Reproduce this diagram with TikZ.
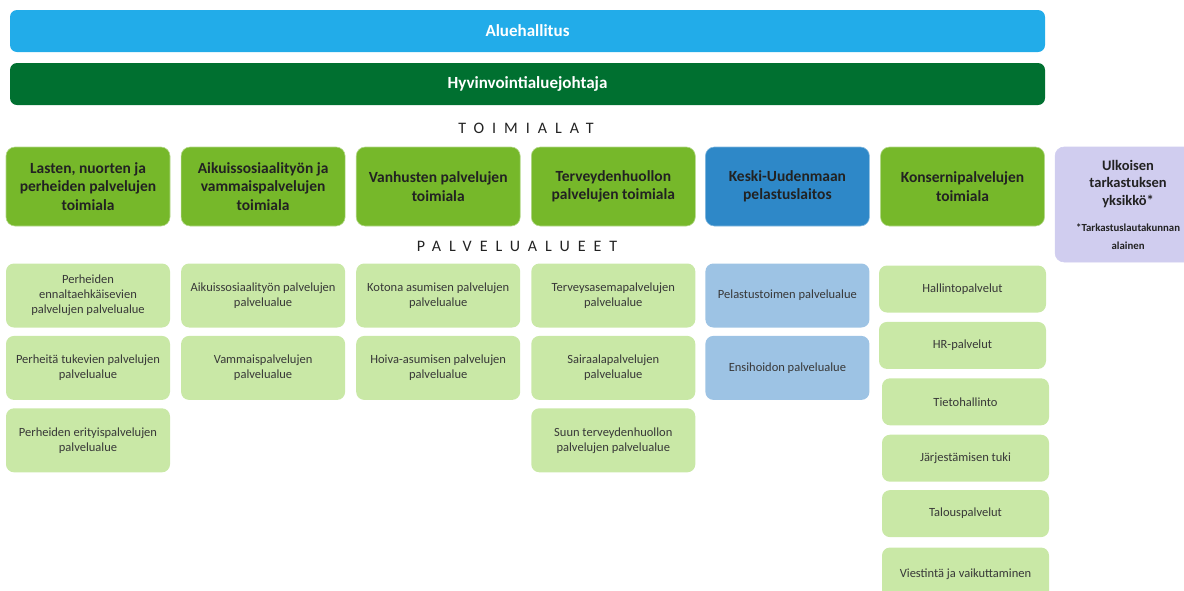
\documentclass[tikz,border=0pt]{standalone}
\usepackage{fontspec}
\setmainfont{Carlito}
\newfontfamily\spaced[LetterSpace=50]{Carlito}
\usetikzlibrary{positioning}
\definecolor{hallitus}{HTML}{22ACE9}
\definecolor{johto}{HTML}{007030}
\definecolor{ala}{HTML}{76B82A}
\definecolor{pela}{HTML}{2E88C8}
\definecolor{alue}{HTML}{C9E8A6}
\definecolor{pelaalue}{HTML}{9DC3E4}
\definecolor{ulko}{HTML}{D0CDEF}
\definecolor{txt}{HTML}{222222}
\definecolor{txtb}{HTML}{383838}
\newcommand{\notefont}{\fontsize{10.8}{14}\selectfont\bfseries}
\begin{document}
\begin{tikzpicture}[x=1pt, y=1pt]
    \tikzstyle{bar} = [rounded corners=7pt, minimum width=1035pt, minimum height=42pt, inner sep=0pt, text=white, font=\fontsize{17}{20}\selectfont\bfseries]
    \tikzstyle{ala} = [rounded corners=9pt, fill=ala, draw=ala!55!white, line width=0.6pt, minimum width=164pt, minimum height=79pt, inner sep=0pt, align=center, text=txt, font=\fontsize{15.5}{18.5}\selectfont\bfseries]
    \tikzstyle{alue} = [rounded corners=8pt, fill=alue, minimum width=164pt, minimum height=64pt, inner sep=0pt, align=center, text=txtb, font=\fontsize{12.5}{15}\selectfont]
    \tikzstyle{tuki} = [alue, minimum width=167pt, minimum height=47pt]
    \tikzstyle{head} = [text=txt, font=\fontsize{16}{18}\spaced]
    \useasboundingbox (0,0) rectangle (1184,-590);
    \clip (0,0) rectangle (1184,-590);

    \node[bar, fill=hallitus](AH) at (527.5,-31){Aluehallitus};
    \node[bar, fill=johto](HJ) at (527.5,-84){Hyvinvointialuejohtaja};
    \node[head](Toimialat) at (526,-128){TOIMIALAT};

    % toimialat
    \node[ala](T1) at (88,-186.5){Lasten, nuorten ja\\perheiden palvelujen\\toimiala};
    \node[ala, right=10.5pt of T1](T2){Aikuissosiaalityön ja\\vammaispalvelujen\\toimiala};
    \node[ala, right=10.5pt of T2](T3){Vanhusten palvelujen\\toimiala};
    \node[ala, right=10.5pt of T3](T4){Terveydenhuollon\\palvelujen toimiala};
    \node[ala, fill=pela, draw=pela!60!white, right=9.5pt of T4](T5){Keski-Uudenmaan\\pelastuslaitos};
    \node[ala, right=10.5pt of T5](T6){Konsernipalvelujen\\toimiala};
    \node[ala, fill=ulko, draw=ulko, minimum width=146pt, minimum height=115pt, font=\fontsize{14.5}{17.5}\selectfont\bfseries, right=10pt of T6.north east, anchor=north west](U){Ulkoisen\\tarkastuksen\\yksikkö*\\[9pt]\notefont *Tarkastuslautakunnan\\\notefont alainen};

    \node[head](Palvelualueet) at (517,-246){PALVELUALUEET};

    % palvelualueet
    \node[alue, below=37pt of T1](A11){Perheiden\\ennaltaehkäisevien\\palvelujen palvelualue};
    \node[alue, below=8pt of A11](A12){Perheitä tukevien palvelujen\\palvelualue};
    \node[alue, below=8pt of A12](A13){Perheiden erityispalvelujen\\palvelualue};

    \node[alue, below=37pt of T2](A21){Aikuissosiaalityön palvelujen\\palvelualue};
    \node[alue, below=8pt of A21](A22){Vammaispalvelujen\\palvelualue};

    \node[alue, below=37pt of T3](A31){Kotona asumisen palvelujen\\palvelualue};
    \node[alue, below=8pt of A31](A32){Hoiva-asumisen palvelujen\\palvelualue};

    \node[alue, below=37pt of T4](A41){Terveysasemapalvelujen\\palvelualue};
    \node[alue, below=8pt of A41](A42){Sairaalapalvelujen\\palvelualue};
    \node[alue, below=8pt of A42](A43){Suun terveydenhuollon\\palvelujen palvelualue};

    \node[alue, fill=pelaalue, below=37pt of T5](A51){Pelastustoimen palvelualue};
    \node[alue, fill=pelaalue, below=8pt of A51](A52){Ensihoidon palvelualue};

    \node[tuki, below=39pt of T6](A61){Hallintopalvelut};
    \node[tuki, below=9pt of A61](A62){HR-palvelut};
    \node[tuki, below=9pt of A62, xshift=3pt](A63){Tietohallinto};
    \node[tuki, below=9pt of A63](A64){Järjestämisen tuki};
    \node[tuki, below=8pt of A64](A65){Talouspalvelut};
    \node[tuki, minimum height=54pt, below=10pt of A65](A66){Viestintä ja vaikuttaminen};
\end{tikzpicture}
\end{document}
